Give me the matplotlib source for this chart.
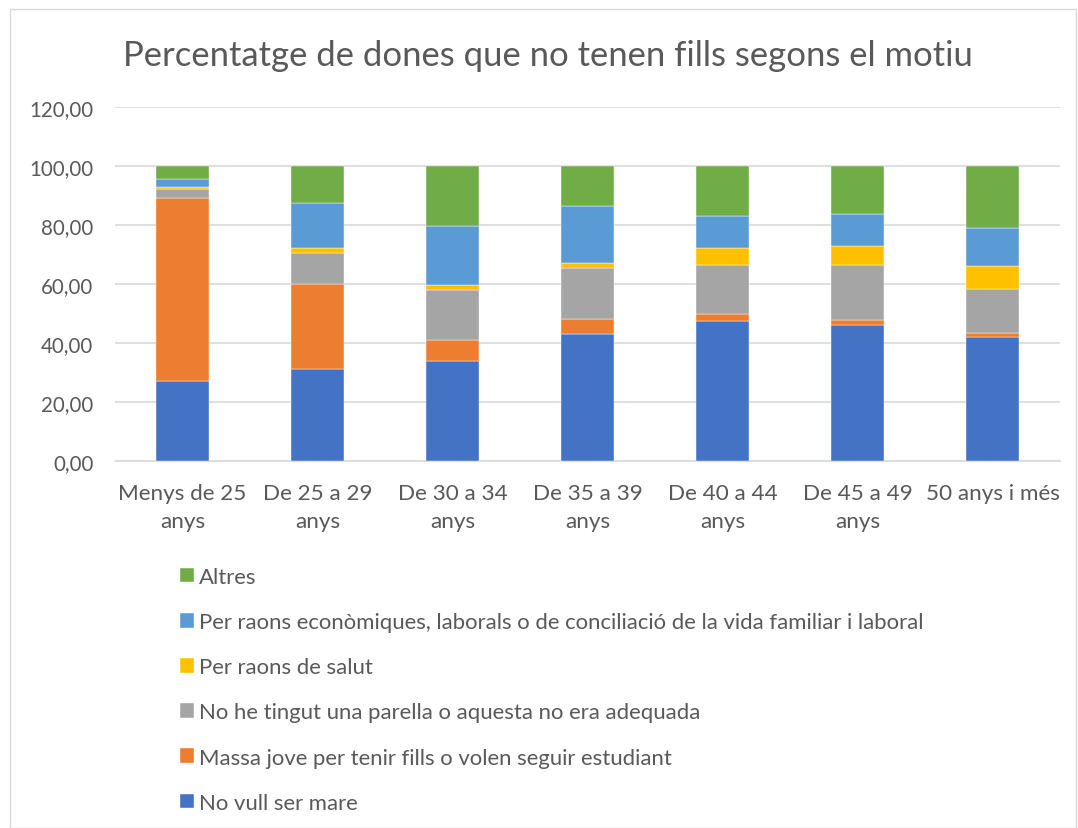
import matplotlib.pyplot as plt
import numpy as np
from matplotlib.patches import Rectangle

# Age groups (x axis)
categories = ['Menys de 25\nanys', 'De 25 a 29\nanys', 'De 30 a 34\nanys', 'De 35 a 39\nanys',
              'De 40 a 44\nanys', 'De 45 a 49\nanys', '50 anys i més']

# Stacked series, bottom to top
no_vull = [27.1, 31.2, 34.0, 43.2, 47.5, 46.2, 42.1]
massa_jove = [61.9, 28.9, 7.0, 5.1, 2.4, 1.7, 1.3]
no_parella = [3.2, 10.5, 17.1, 17.2, 16.6, 18.6, 15.0]
salut = [0.6, 1.5, 1.7, 1.7, 5.8, 6.4, 7.7]
economiques = [2.8, 15.2, 20.0, 19.1, 10.6, 10.8, 13.0]
altres = [4.4, 12.7, 20.2, 13.7, 17.1, 16.3, 20.9]

series_names = ['No vull ser mare',
                'Massa jove per tenir fills o volen seguir estudiant',
                'No he tingut una parella o aquesta no era adequada',
                'Per raons de salut',
                'Per raons econòmiques, laborals o de conciliació de la vida familiar i laboral',
                'Altres']
colors = ['#4472C4', '#ED7D31', '#A5A5A5', '#FFC000', '#5B9BD5', '#70AD47']

plt.rcParams['font.family'] = ['Lato', 'DejaVu Sans']
text_color = '#595959'

fig = plt.figure(figsize=(10.78, 8.29), dpi=100)
ax = fig.add_axes([115 / 1078, 1 - 462 / 829, 945 / 1078, 354 / 829])

# outer chart border
fig.patches.append(Rectangle((10 / 1078, 0), 1 - 12 / 1078, 1 - 10 / 829, transform=fig.transFigure,
                             fill=False, edgecolor='#d9d9d9', linewidth=1))

x = np.arange(len(categories))
bottom = np.zeros(len(categories))
handles = []
for vals, name, col in zip([no_vull, massa_jove, no_parella, salut, economiques, altres], series_names, colors):
    h = ax.bar(x, vals, width=0.39, bottom=bottom, color=col, label=name, zorder=3,
               edgecolor='white', linewidth=0.3)
    handles.append(h)
    bottom += np.array(vals)

ax.set_xlim(-0.5, len(categories) - 0.5)
ax.set_ylim(0, 120)
ax.set_yticks(np.arange(0, 121, 20))
ax.set_yticklabels([f'{v:.2f}'.replace('.', ',') for v in np.arange(0, 121, 20)])
ax.set_xticks(x)
ax.set_xticklabels(categories, linespacing=1.5)
ax.tick_params(axis='both', length=0, colors=text_color)
ax.tick_params(axis='x', pad=16, labelsize=16.2)
ax.tick_params(axis='y', pad=15.5, labelsize=14.8)
ax.grid(axis='y', color='#d9d9d9', linewidth=1.2, zorder=0)
for s in ['top', 'right', 'left']:
    ax.spines[s].set_visible(False)
ax.spines['bottom'].set_color('#d9d9d9')
ax.spines['bottom'].set_linewidth(1.2)

fig.text(548 / 1078, 1 - 56 / 829, 'Percentatge de dones que no tenen fills segons el motiu',
         ha='center', va='center', fontsize=24.9, color=text_color)

leg = fig.legend(handles[::-1], series_names[::-1], loc='upper left',
                 bbox_to_anchor=(160 / 1078, 1 - 548 / 829), frameon=False,
                 fontsize=15.9, labelcolor=text_color, handlelength=0.65, handleheight=0.65,
                 handletextpad=0.22, labelspacing=1.14)

fig.savefig('out.png', dpi=100)
